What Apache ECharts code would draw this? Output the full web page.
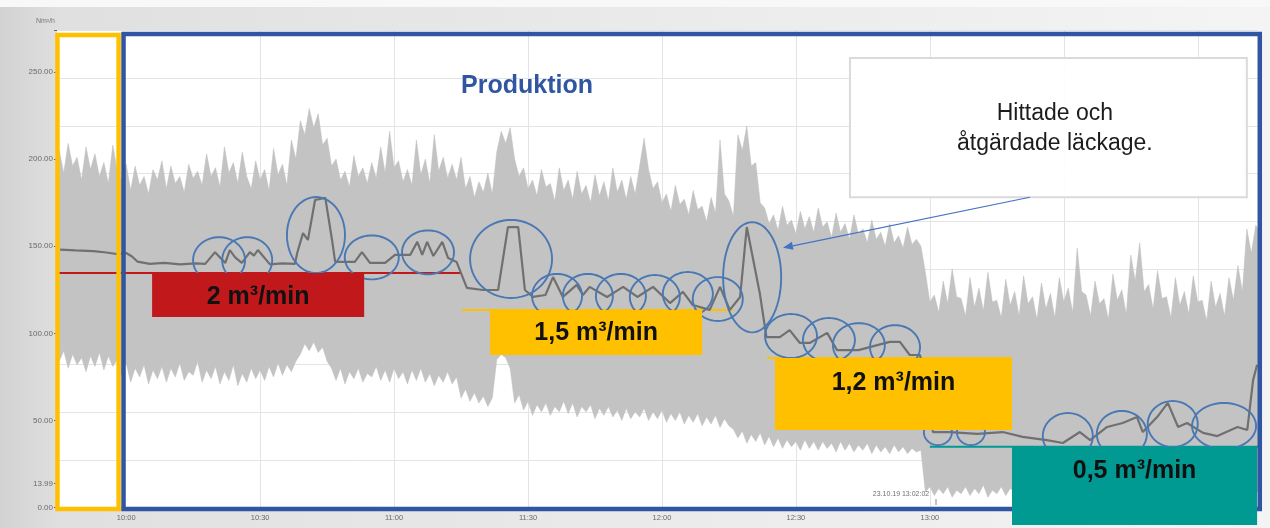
<!DOCTYPE html>
<html><head><meta charset="utf-8">
<script src="https://cdn.jsdelivr.net/npm/echarts@6.0.0/dist/echarts.min.js"></script>
<style>html,body{margin:0;padding:0;overflow:hidden;background:#fff}#chart{width:1270px;height:528px}</style>
</head><body><div id="chart"></div>
<script>
// ---------- DATA (minutes since midnight, Nm³/h) ----------
const X_MIN = 584.5, X_MAX = 853.5, Y_MAX = 273.7;
const X_TICKS = [600, 630, 660, 690, 720, 750, 780];
const X_GRID = [630, 660, 690, 720, 750, 780, 810, 840];
const Y_TICKS = [0, 13.99, 50, 100, 150, 200, 250];
const Y_TICK_MARKS = [0, 13.99, 50, 100, 150, 200, 250, 273.7];

// envelope of the raw (noisy) flow signal, read once per minute
const ENV_TIMES = [584.5,
585,586,587,588,589,590,591,592,593,594,
595,596,597,598,599,600,601,602,603,604,
605,606,607,608,609,610,611,612,613,614,
615,616,617,618,619,620,621,622,623,624,
625,626,627,628,629,630,631,632,633,634,
635,636,637,638,639,640,641,642,643,644,
645,646,647,648,649,650,651,652,653,654,
655,656,657,658,659,660,661,662,663,664,
665,666,667,668,669,670,671,672,673,674,
675,676,677,678,679,680,681,682,683,684,
685,686,687,688,689,690,691,692,693,694,
695,696,697,698,699,700,701,702,703,704,
705,706,707,708,709,710,711,712,713,714,
715,716,717,718,719,720,721,722,723,724,
725,726,727,728,729,730,731,732,733,734,
735,736,737,738,739,740,741,742,743,744,
745,746,747,748,749,750,751,752,753,754,
755,756,757,758,759,760,761,762,763,764,
765,766,767,768,769,770,771,772,773,774,
775,776,777,778,779,780,781,782,783,784,
785,786,787,788,789,790,791,792,793,794,
795,796,797,798,799,800,801,802,803,804,
805,806,807,808,809,810,811,812,813,814,
815,816,817,818,819,820,821,822,823,824,
825,826,827,828,829,830,831,832,833,834,
835,836,837,838,839,840,841,842,843,844,
845,846,847,848,849,850,851,852,853,
853.5];
const ENV_HIGH = [198,
205,192,209,196,201,188,207,194,203,190,
198,186,208,193,188,197,182,196,185,190,
180,194,188,199,183,196,186,190,181,197,
189,193,185,203,190,195,184,207,192,198,
186,204,190,183,199,188,194,182,206,191,
197,185,211,200,222,214,229,218,226,208,
212,196,200,188,193,184,202,190,195,186,
198,189,207,192,216,195,199,187,194,185,
211,191,200,186,214,193,201,189,197,188,
201,183,190,178,187,181,192,180,204,216,
209,218,200,190,195,183,188,179,194,184,
186,176,195,182,188,177,193,180,185,175,
191,179,187,176,195,181,188,177,190,180,
196,212,194,183,187,175,180,170,185,174,
177,168,182,171,173,164,178,169,211,180,
176,167,214,205,219,196,198,175,172,163,
168,159,173,162,165,157,170,160,167,158,
172,161,164,155,169,158,163,154,168,157,
160,152,165,154,158,150,163,152,156,149,
161,151,154,150,135,118,122,112,130,117,
137,121,120,110,132,115,126,113,135,118,
119,109,131,116,124,110,133,117,121,108,
129,114,123,109,132,118,126,112,149,124,
122,110,130,117,120,108,134,119,125,111,
145,130,152,124,128,114,136,120,121,109,
132,116,124,111,133,118,119,107,130,115,
123,110,132,119,139,124,160,146,162,
160];
const ENV_LOW = [86,
84,90,80,88,82,86,78,87,81,89,
79,87,81,85,76,83,72,80,75,82,
71,79,74,81,72,80,75,83,73,78,
76,84,72,79,74,81,71,78,73,82,
70,77,72,80,74,79,73,81,75,83,
76,82,78,84,88,94,90,95,89,92,
84,80,73,80,71,78,74,80,72,77,
75,81,73,79,72,80,74,78,71,79,
73,80,72,77,70,76,72,78,71,75,
63,68,61,66,60,64,58,63,85,88,
86,80,60,65,56,61,53,59,55,60,
53,58,55,61,54,60,52,58,55,59,
51,57,53,58,52,56,50,57,51,55,
52,57,50,55,51,56,49,54,50,55,
48,53,49,54,47,52,48,53,46,51,
47,45,40,44,37,42,38,43,36,41,
35,40,34,39,35,38,33,39,34,38,
33,38,34,37,32,38,33,37,32,36,
33,37,31,36,32,35,31,36,32,35,
31,34,32,33,9,12,7,11,8,12,
6,10,8,12,7,11,8,13,6,10,
8,12,7,11,9,13,6,10,8,12,
7,11,8,12,6,10,8,13,7,11,
9,12,6,10,8,13,7,11,8,12,
6,10,8,12,7,11,9,13,6,10,
8,12,7,11,9,12,6,10,8,12,
7,11,8,12,6,10,8,11,9,
9];

// smoothed (dark) flow line
const MEAN_TIMES = [585.2,588.6,592.6,595.6,598.2,600.0,601.3,602.5,605.3,608.5,612.1,615.5,617.7,619.9,621.0,622.2,623.2,624.4,625.9,627.7,628.6,629.5,632.2,634.9,637.8,638.3,639.6,640.7,642.3,644.6,646.1,646.8,651.2,652.8,654.6,658.0,660.2,663.6,665.2,666.3,667.4,668.8,670.8,672.1,674.0,676.3,679.9,683.3,685.5,687.8,689.3,691.1,693.9,695.6,697.8,700.9,702.3,703.8,707.7,711.3,714.5,718.0,721.8,724.7,726.9,730.7,733.0,735.2,737.5,739.0,741.9,743.4,746.4,748.6,750.9,753.1,757.0,759.2,764.0,771.0,773.3,775.5,777.8,778.9,780.7,784.5,790.6,796.3,800.8,806.2,809.8,813.6,815.9,819.7,823.2,826.4,827.7,830.9,833.3,835.6,837.6,841.2,844.4,848.9,851.1,852.4,853.3];
const MEAN_VALUES = [148.1,147.6,147.2,146.4,145.4,146.1,144.1,141.2,139.9,140.4,139.6,140.2,139.9,146.6,143.6,140.4,147.8,143.6,140.4,146.6,144.6,147.8,139.6,140.2,139.9,146.1,157.5,153.6,176.5,177.7,153.6,141.0,141.0,146.6,140.4,140.4,145.0,145.0,152.5,145.0,152.5,144.4,152.5,143.2,141.0,126.1,124.9,124.9,161.0,161.0,124.9,120.9,122.0,132.3,120.9,127.8,122.0,126.7,120.9,126.7,120.9,126.7,117.4,123.8,116.3,113.5,126.7,113.5,120.9,161.0,123.2,97.9,97.9,101.9,94.5,94.5,100.3,90.4,90.4,95.1,95.1,87.6,87.6,73.2,43.4,43.4,42.3,43.4,40.6,38.8,37.1,43.4,38.8,46.3,48.6,52.0,43.4,52.0,60.1,46.3,48.6,42.9,41.1,46.3,44.6,73.2,82.0];

// consumption levels (line + labelled box)
const LEVEL_NAMES = ['2 m³/min', '1,5 m³/min', '1,2 m³/min', '0,5 m³/min'];
const LEVEL_VALUES = [134.7, 113.4, 85.9, 34.9];
const LINE_START = [584.5, 675.2, 743.5, 780.0];
const LINE_END = [674.8, 735.9, 798.4, 853.5];
const BOX_START = [605.8, 681.5, 745.3, 798.4];
const BOX_END = [653.3, 729.0, 798.4, 853.3];
const BOX_BOTTOM = [109.4, 87.6, 44.6, -9.9];
const LABEL_VALUES = [120.7, 100.2, 71.6, 21.0];

// leak markers (centre time, centre value, half width in minutes, half height in Nm³/h)
const CIRCLE_T = [620.8,627.1,642.5,655.0,667.6,686.2,696.5,703.4,710.8,718.4,725.8,732.5,740.2,748.9,757.4,764.1,772.2,781.8,789.2,810.9,823.0,834.4,845.9];
const CIRCLE_V = [142.0,142.0,156.4,143.6,146.5,142.7,121.5,121.5,121.5,120.9,122.6,119.7,132.2,98.5,96.2,93.3,92.1,43.4,43.4,41.1,42.3,48.0,46.9];
const CIRCLE_RT = [5.82,5.6,6.5,6.05,5.82,9.18,5.6,5.6,5.6,5.6,5.6,5.6,6.5,5.82,5.82,5.82,5.6,3.14,3.14,5.6,5.6,5.6,7.17];
const CIRCLE_RV = [13.2,13.2,21.8,12.6,12.6,22.4,12.6,12.6,12.6,12.6,12.6,12.6,31.6,12.6,12.6,12.6,12.6,7.5,7.5,13.2,13.2,13.2,13.2];

// frames: before production (yellow) and production (blue)
const FRAME_T0 = [584.6, 599.4];
const FRAME_T1 = [598.3, 853.9];
const FRAME_V0 = [-0.7, -0.7];
const FRAME_V1 = [271.2, 271.7];

// callout
const ANNOT_TEXT = 'Hittade och\nåtgärdade läckage.';
const ANNOT_BOX_T = [762.1, 851.0];
const ANNOT_BOX_V = [258.0, 178.1];
const ANNOT_TEXT_POS = [808.0, 217.4];
const ARROW_T = [802.4, 747.1];
const ARROW_V = [178.1, 149.1];

// ---------- STYLE ----------
const FONT = '"Liberation Sans", Arial, Helvetica, sans-serif';
const LEVEL_COLORS = ['#c0181b', '#ffc000', '#ffc000', '#009a93'];
const FRAME_COLORS = ['#ffc000', '#2f55a3'];
const CIRCLE_COLOR = '#4a78b3';

const fmtTime = v => Math.floor(v / 60) + ':' + String(Math.round(v % 60)).padStart(2, '0');

function ellipse(cx, cy, rx, ry) {
  const pts = [];
  for (let k = 0; k < 72; k++) {
    const a = k / 72 * Math.PI * 2;
    pts.push([cx + rx * Math.cos(a), cy + ry * Math.sin(a)]);
  }
  return pts;
}

const chart = echarts.init(document.getElementById('chart'));

const option = {
  animation: false,
  backgroundColor: {
    type: 'linear', x: 0, y: 0, x2: 1, y2: 0,
    colorStops: [
      { offset: 0, color: '#d2d2d2' }, { offset: 0.05, color: '#e0e0e0' },
      { offset: 0.5, color: '#eaeaea' }, { offset: 1, color: '#f4f4f4' }
    ]
  },
  grid: { left: 57, right: 12, top: 30.6, bottom: 20.3, show: true, backgroundColor: '#ffffff', borderWidth: 0 },
  xAxis: {
    type: 'value', min: X_MIN, max: X_MAX,
    axisLine: { show: false }, axisTick: { show: false }, splitLine: { show: false },
    axisLabel: { customValues: X_TICKS, formatter: fmtTime, fontSize: 7.5, color: '#6a6a6a', margin: 6, fontFamily: FONT }
  },
  yAxis: [
    {
      type: 'value', min: 0, max: Y_MAX,
      name: 'Nm³/h', nameLocation: 'end', nameGap: 6,
      nameTextStyle: { fontSize: 7, color: '#777', align: 'right', fontFamily: FONT, padding: [0, 2, 0, 0] },
      axisLine: { show: false },
      axisTick: { show: true, customValues: Y_TICK_MARKS, length: 3, lineStyle: { color: '#666' } },
      splitLine: { show: false },
      axisLabel: { customValues: Y_TICKS, formatter: v => v.toFixed(2), fontSize: 8, color: '#6a6a6a', margin: 4, fontFamily: FONT }
    },
    {
      type: 'value', min: 0, max: Y_MAX, interval: 27.37, position: 'left',
      axisLine: { show: false }, axisTick: { show: false }, axisLabel: { show: false },
      splitLine: { show: true, lineStyle: { color: '#e4e4e4', width: 1 } }
    }
  ],
  graphic: [
    { type: 'rect', z: 100, shape: { x: 0, y: 0, width: 1270, height: 7 }, style: { fill: '#f8f8f8' } },
    { type: 'text', z: 100, x: 527, y: 86, style: { text: 'Produktion', font: 'bold 25px ' + FONT, fill: '#2f55a3', textAlign: 'center', textVerticalAlign: 'middle', align: 'center', verticalAlign: 'middle' } },
    { type: 'text', z: 100, x: 901, y: 494, style: { text: '23.10.19 13:02:02', font: '7px ' + FONT, fill: '#707070', textAlign: 'center', textVerticalAlign: 'middle', align: 'center', verticalAlign: 'middle' } },
    { type: 'line', z: 100, shape: { x1: 936, y1: 499, x2: 936, y2: 505 }, style: { stroke: '#888', lineWidth: 1 } }
  ],
  series: [
    { // vertical grid lines
      type: 'custom', z: 1, silent: true,
      data: X_GRID.map(t => [t, 0]),
      renderItem: (p, api) => {
        const a = api.coord([api.value(0), 0]);
        const b = api.coord([api.value(0), Y_MAX]);
        return { type: 'line', shape: { x1: Math.round(a[0]) + 0.5, y1: a[1], x2: Math.round(b[0]) + 0.5, y2: b[1] }, style: { stroke: '#e4e4e4', lineWidth: 1 } };
      }
    },
    { // raw signal band
      type: 'custom', z: 2, silent: true,
      data: [[ENV_TIMES[0], ENV_HIGH[0]]],
      renderItem: (p, api) => {
        const pts = [];
        ENV_TIMES.forEach((t, i) => pts.push(api.coord([t, ENV_HIGH[i]])));
        for (let i = ENV_TIMES.length - 1; i >= 0; i--) pts.push(api.coord([ENV_TIMES[i], ENV_LOW[i]]));
        return { type: 'polygon', shape: { points: pts }, style: { fill: '#c3c3c3', stroke: '#bebebe', lineWidth: 0.5 } };
      }
    },
    { // level lines
      type: 'custom', z: 3, silent: true, clip: false,
      data: LEVEL_VALUES.map((v, i) => [LINE_START[i], v, LINE_END[i], i]),
      renderItem: (p, api) => {
        const a = api.coord([api.value(0), api.value(1)]);
        const b = api.coord([api.value(2), api.value(1)]);
        return { type: 'line', shape: { x1: a[0], y1: a[1], x2: b[0], y2: b[1] }, style: { stroke: LEVEL_COLORS[api.value(3)], lineWidth: 2 } };
      }
    },
    { // smoothed flow
      type: 'line', z: 4, silent: true, showSymbol: false, symbol: 'none',
      data: MEAN_TIMES.map((t, i) => [t, MEAN_VALUES[i]]),
      lineStyle: { color: '#707070', width: 2.2 }
    },
    { // leak markers
      type: 'custom', z: 5, silent: true, clip: false,
      data: CIRCLE_T.map((t, i) => [t, CIRCLE_V[i], CIRCLE_RT[i], CIRCLE_RV[i]]),
      renderItem: (p, api) => {
        const c = api.coord([api.value(0), api.value(1)]);
        const e = api.coord([api.value(0) + api.value(2), api.value(1) + api.value(3)]);
        return { type: 'polygon', shape: { points: ellipse(c[0], c[1], Math.abs(e[0] - c[0]), Math.abs(c[1] - e[1])) }, style: { fill: 'none', stroke: CIRCLE_COLOR, lineWidth: 1.9 } };
      }
    },
    { // frames
      type: 'custom', z: 6, silent: true, clip: false,
      data: FRAME_T0.map((t, i) => [t, FRAME_V0[i], FRAME_T1[i], FRAME_V1[i], i]),
      renderItem: (p, api) => {
        const a = api.coord([api.value(0), api.value(3)]);
        const b = api.coord([api.value(2), api.value(1)]);
        return { type: 'rect', shape: { x: a[0], y: a[1], width: b[0] - a[0], height: b[1] - a[1] }, style: { fill: 'none', stroke: FRAME_COLORS[api.value(4)], lineWidth: 4.5 } };
      }
    },
    { // level boxes with labels
      type: 'custom', z: 7, silent: true, clip: false,
      data: LEVEL_VALUES.map((v, i) => [BOX_START[i], v, BOX_END[i], BOX_BOTTOM[i], LABEL_VALUES[i], i]),
      renderItem: (p, api) => {
        const i = api.value(5);
        const a = api.coord([api.value(0), api.value(1)]);
        const b = api.coord([api.value(2), api.value(3)]);
        const c = api.coord([(api.value(0) + api.value(2)) / 2, api.value(4)]);
        return {
          type: 'group', children: [
            { type: 'rect', shape: { x: a[0], y: a[1], width: b[0] - a[0], height: b[1] - a[1] }, style: { fill: LEVEL_COLORS[i] } },
            { type: 'text', x: c[0], y: c[1], style: { text: LEVEL_NAMES[i], fill: '#111', font: 'bold 25px ' + FONT, textAlign: 'center', textVerticalAlign: 'middle', align: 'center', verticalAlign: 'middle' } }
          ]
        };
      }
    },
    { // callout box + arrow
      type: 'custom', z: 8, silent: true, clip: false,
      data: [[ANNOT_BOX_T[0], ANNOT_BOX_V[0]]],
      renderItem: (p, api) => {
        const a = api.coord([ANNOT_BOX_T[0], ANNOT_BOX_V[0]]);
        const b = api.coord([ANNOT_BOX_T[1], ANNOT_BOX_V[1]]);
        const c = api.coord(ANNOT_TEXT_POS);
        const s = api.coord([ARROW_T[0], ARROW_V[0]]);
        const e = api.coord([ARROW_T[1], ARROW_V[1]]);
        const ang = Math.atan2(e[1] - s[1], e[0] - s[0]);
        const L = 10, W = 4;
        const bx = e[0] - L * Math.cos(ang), by = e[1] - L * Math.sin(ang);
        const head = [e, [bx + W * Math.sin(ang), by - W * Math.cos(ang)], [bx - W * Math.sin(ang), by + W * Math.cos(ang)]];
        return {
          type: 'group', children: [
            { type: 'rect', shape: { x: a[0], y: a[1], width: b[0] - a[0], height: b[1] - a[1] }, style: { fill: 'rgba(255,255,255,0.93)', stroke: '#dadada', lineWidth: 2 } },
            { type: 'text', x: c[0], y: c[1], style: { text: ANNOT_TEXT, fill: '#1c1c1c', font: '23px ' + FONT, lineHeight: 30, textAlign: 'center', textVerticalAlign: 'middle', align: 'center', verticalAlign: 'middle' } },
            { type: 'line', shape: { x1: s[0], y1: s[1], x2: bx, y2: by }, style: { stroke: '#4472c4', lineWidth: 1.2 } },
            { type: 'polygon', shape: { points: head }, style: { fill: '#4472c4' } }
          ]
        };
      }
    }
  ]
};
chart.setOption(option);
</script></body></html>
